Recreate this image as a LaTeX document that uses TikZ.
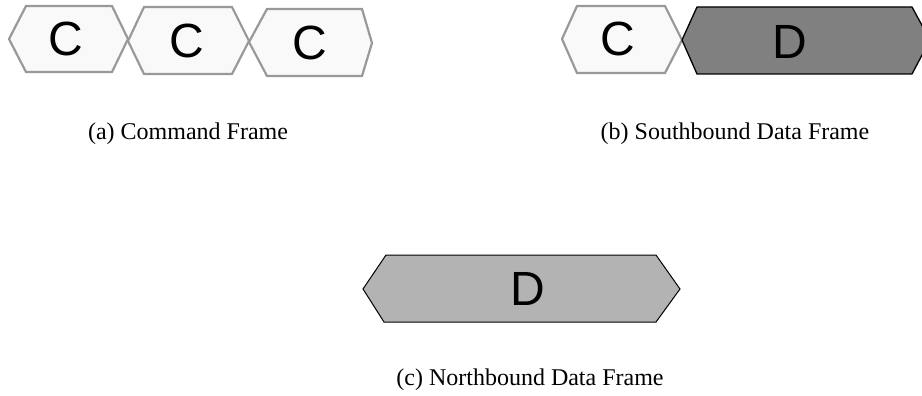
\documentclass[tikz,border=0pt]{standalone}
\usepackage{fontspec}
\setmainfont{Liberation Serif}
\newfontfamily\lettersans{Liberation Sans}
\definecolor{cfill}{HTML}{F9F9F9}
\definecolor{cline}{HTML}{999999}
\definecolor{dfillb}{HTML}{808080}
\definecolor{dfillc}{HTML}{B3B3B3}
\begin{document}
\begin{tikzpicture}[x=1pt,y=-1pt,
  chex/.style={draw=cline,fill=cfill,line width=2.2pt,line join=miter},
  dhexb/.style={draw=black,fill=dfillb,line width=1.3pt},
  dhexc/.style={draw=black,fill=dfillc,line width=1pt},
  letter/.style={font=\lettersans\fontsize{48}{56}\selectfont,inner sep=0pt},
  caption/.style={font=\fontsize{24}{28}\selectfont,inner sep=0pt}]
\useasboundingbox (0,0) rectangle (922,396);
\clip (0,0) rectangle (922,396);
% (a) command frame
\path[chex] (9,39) -- (26,6) -- (112,6) -- (128,39) -- (112,72) -- (26,72) -- cycle;
\path[chex] (128,41) -- (144,7) -- (232,7) -- (249,41) -- (232,74) -- (144,74) -- cycle;
\path[chex] (249,42) -- (267,9) -- (362,9) -- (372,43) -- (362,76) -- (267,76) -- cycle;
\node[letter] (c1) at (66,39) {C};
\node[letter] (c2) at (187,41) {C};
\node[letter] (c3) at (310,43) {C};
\node[caption] (capa) at (188,134) {(a) Command Frame};
% (b) southbound data frame
\path[chex] (562,39) -- (577,6) -- (665,6) -- (682,40) -- (665,73) -- (577,73) -- cycle;
\path[dhexb] (682,40) -- (697,7) -- (912,7) -- (930,40) -- (912,74) -- (697,74) -- cycle;
\node[letter] (cb) at (618,39) {C};
\node[letter] (db) at (790,42) {D};
\node[caption] (capb) at (735,134) {(b) Southbound Data Frame};
% (c) northbound data frame
\path[dhexc] (363,289) -- (386,255) -- (656,255) -- (680,289) -- (656,322) -- (384,322) -- cycle;
\node[letter] (dc) at (528,289) {D};
\node[caption] (capc) at (530,380) {(c) Northbound Data Frame};
\end{tikzpicture}
\end{document}
